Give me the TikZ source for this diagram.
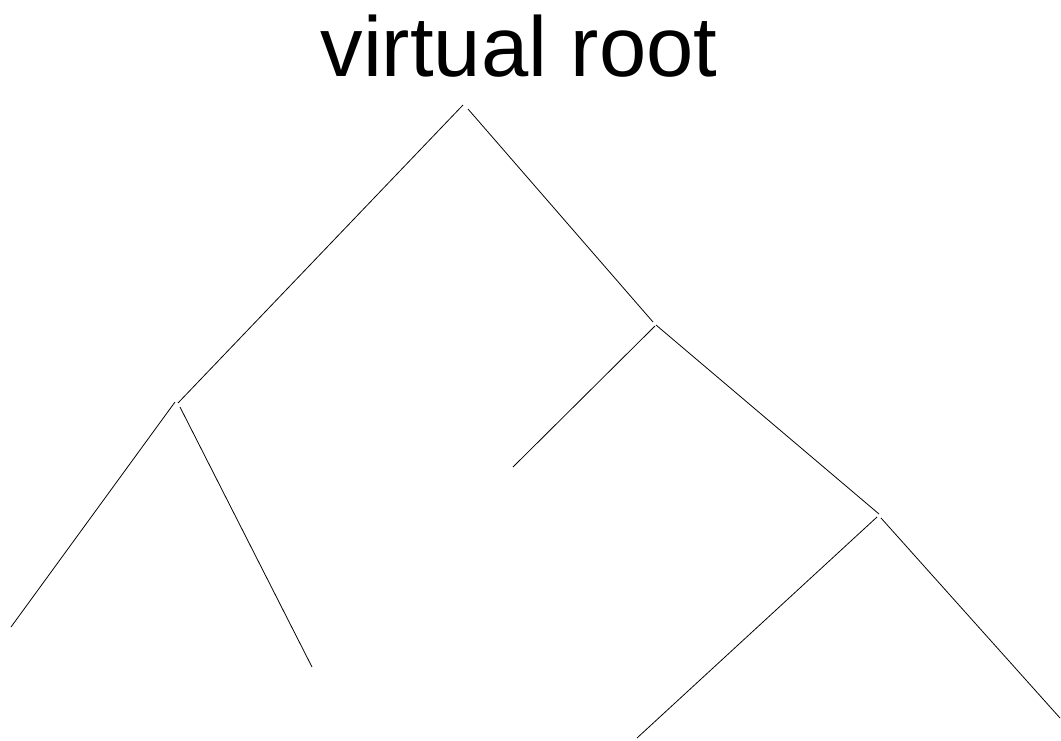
\documentclass[tikz,border=0pt]{standalone}
\usepackage{fontspec}
\setmainfont{Liberation Sans}
\begin{document}
\begin{tikzpicture}[x=1pt,y=-1pt,edge/.style={draw=black,line width=0.8pt}]
\useasboundingbox (0,0) rectangle (1061,740);
\node[anchor=base,inner sep=0pt,font=\fontsize{85}{85}\selectfont] (title) at (519,76) {virtual root};
\coordinate (a1) at (463,105);
\coordinate (a2) at (178,403);
\coordinate (b1) at (468,109);
\coordinate (b2) at (653,322);
\coordinate (c1) at (175,402);
\coordinate (c2) at (11,627);
\coordinate (d1) at (180,407);
\coordinate (d2) at (312,667);
\coordinate (e1) at (655,326);
\coordinate (e2) at (513,467);
\coordinate (f1) at (656,325);
\coordinate (f2) at (879,514);
\coordinate (g1) at (877,517);
\coordinate (g2) at (637,738);
\coordinate (h1) at (881,518);
\coordinate (h2) at (1060,718);
\draw[edge] (a1) -- (a2);
\draw[edge] (b1) -- (b2);
\draw[edge] (c1) -- (c2);
\draw[edge] (d1) -- (d2);
\draw[edge] (e1) -- (e2);
\draw[edge] (f1) -- (f2);
\draw[edge] (g1) -- (g2);
\draw[edge] (h1) -- (h2);
\end{tikzpicture}
\end{document}
